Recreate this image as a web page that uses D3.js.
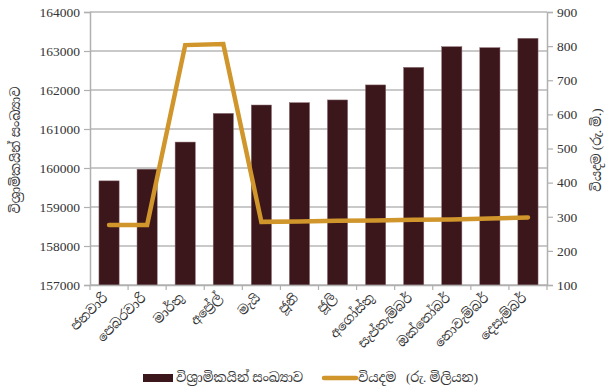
<!DOCTYPE html>
<html><head><meta charset="utf-8">
<script src="https://cdn.jsdelivr.net/npm/d3@7"></script>
<style>
body{margin:0;background:#fff;}
text{font-family:"Liberation Serif","Noto Serif Sinhala","Noto Sans Sinhala",serif;fill:#333;}
</style></head>
<body><svg id="c" width="607" height="390"></svg>
<script>
const months = ["ජනවාරි","පෙබරවාරි","මාර්තු","අප්‍රේල්","මැයි","ජූනි","ජූලි","අගෝස්තු","සැප්තැම්බර්","ඔක්තෝබර්","නොවැම්බර්","දෙසැම්බර්"];
const pensioners = [159670,159970,160665,161400,161615,161675,161745,162130,162580,163110,163085,163325];
const expenditure = [276,276,803,806,285,286,288,289,291,292,295,298];
const leftTicks = [157000,158000,159000,160000,161000,162000,163000,164000];
const rightTicks = [100,200,300,400,500,600,700,800,900];
const seriesNames = ["විශ්‍රාමිකයින් සංඛ්‍යාව","වියදම   (රු. මිලියන)"];
const leftTitle = "විශ්‍රාමිකයින් සංඛ්‍යාව";
const rightTitle = "වියදම (රු. මි.)";

const barColor = "#3b171c", lineColor = "#d0952b", gridColor = "#939393";
const svg = d3.select("#c");
const L = 90, R = 547, T = 12, B = 285;

const x = d3.scaleBand().domain(months).range([L, R]).paddingInner(0.47).paddingOuter(0.235);
const xc = d3.scaleBand().domain(months).range([L, R]);
const yL = d3.scaleLinear().domain([157000,164000]).range([B, T]);
const yR = d3.scaleLinear().domain([100,900]).range([B, T]);

// gridlines
svg.append("g").selectAll("line").data(leftTicks).join("line")
  .attr("x1", L).attr("x2", R).attr("y1", d=>yL(d)).attr("y2", d=>yL(d))
  .attr("stroke", gridColor).attr("stroke-width", 1);

// bars
svg.append("g").selectAll("rect").data(pensioners).join("rect")
  .attr("x", (d,i)=>x(months[i])).attr("width", x.bandwidth())
  .attr("y", d=>yL(d)).attr("height", d=>B - yL(d))
  .attr("fill", barColor).attr("stroke","#8a6a6e").attr("stroke-width",0.5);

// axes
const axL = svg.append("g").attr("transform",`translate(${L},0)`)
  .call(d3.axisLeft(yL).tickValues(leftTicks).tickSize(6).tickPadding(4).tickFormat(d3.format("d")));
const axR = svg.append("g").attr("transform",`translate(${R},0)`)
  .call(d3.axisRight(yR).tickValues(rightTicks).tickSize(6).tickPadding(4).tickFormat(d3.format("d")));
const axB = svg.append("g").attr("transform",`translate(0,${B})`)
  .call(d3.axisBottom(xc).tickSize(0).tickFormat(""));
[axL,axR,axB].forEach(a=>{
  a.select(".domain").attr("stroke", "#b0b0b0").attr("stroke-width",1.5);
  a.selectAll(".tick line").attr("stroke", "#b0b0b0").attr("stroke-width",1.2);
  a.selectAll("text").style("font-family","Liberation Serif, serif").style("font-size","13.5px").attr("fill","#333");
});
// bottom ticks at category boundaries
svg.append("g").selectAll("line").data(months.concat(["__end"])).join("line")
  .attr("x1",(d,i)=> i<months.length ? xc(d) : R).attr("x2",(d,i)=> i<months.length ? xc(d) : R)
  .attr("y1",B).attr("y2",B+5).attr("stroke","#b0b0b0").attr("stroke-width",1.2);

// x labels
svg.append("g").selectAll("text").data(months).join("text")
  .attr("transform", d=>`translate(${xc(d)+xc.bandwidth()/2-5},${B+9}) rotate(-45)`)
  .attr("text-anchor","end").attr("dy","0.5em")
  .style("font-size","13px").text(d=>d);

// line
const line = d3.line().x((d,i)=>xc(months[i])+xc.bandwidth()/2).y(d=>yR(d));
svg.append("path").datum(expenditure).attr("d", line)
  .attr("fill","none").attr("stroke", lineColor).attr("stroke-width",4.5)
  .attr("stroke-linecap","round").attr("stroke-linejoin","miter");

// axis titles
svg.append("text").attr("transform",`translate(20,150) rotate(-90)`)
  .attr("text-anchor","middle").style("font-size","13px").text(leftTitle);
svg.append("text").attr("transform",`translate(601,150) rotate(-90)`)
  .attr("text-anchor","middle").style("font-size","13px").text(rightTitle);

// legend
const lg = svg.append("g");
lg.append("rect").attr("x",143).attr("y",374).attr("width",30).attr("height",8).attr("fill",barColor);
lg.append("text").attr("x",176).attr("y",382).style("font-size","13px").text(seriesNames[0]);
lg.append("line").attr("x1",324).attr("x2",356).attr("y1",378).attr("y2",378)
  .attr("stroke",lineColor).attr("stroke-width",4.5).attr("stroke-linecap","round");
lg.append("text").attr("x",358).attr("y",382).style("font-size","13px").attr("xml:space","preserve").text(seriesNames[1]);
</script></body></html>
